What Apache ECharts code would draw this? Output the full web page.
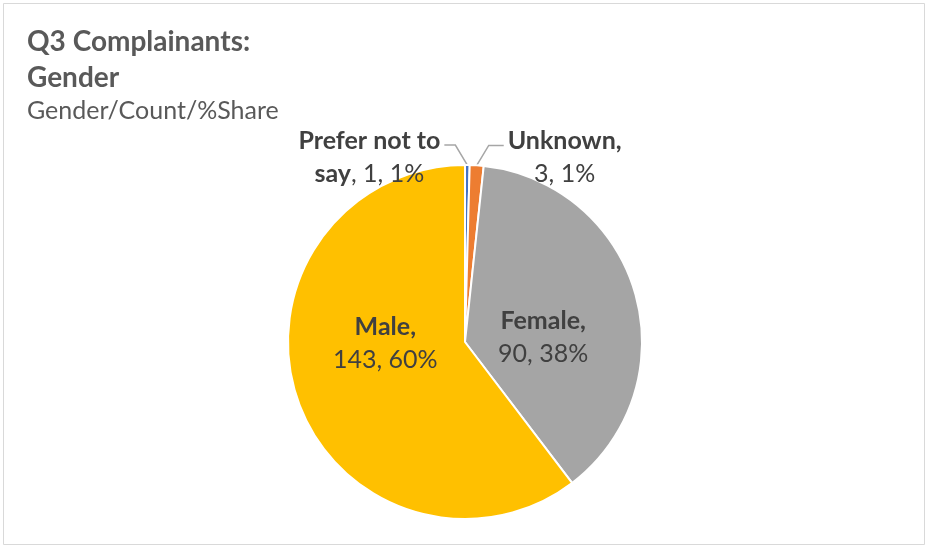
<!DOCTYPE html>
<html>
<head>
<meta charset="utf-8">
<script src="https://cdn.jsdelivr.net/npm/echarts@6/dist/echarts.min.js"></script>
<style>
html,body{margin:0;padding:0;background:#fff;}
#c{width:927px;height:547px;}
</style>
</head>
<body>
<div id="c"></div>
<script>
// Data
var categories = ['Prefer not to say', 'Unknown', 'Female', 'Male'];
var counts = [1, 3, 90, 143];
var pctLabels = ['1%', '1%', '38%', '60%'];
var colors = ['#4472C4', '#ED7D31', '#A5A5A5', '#FFC000'];
var titleText = 'Q3 Complainants:\nGender';
var subtitleText = 'Gender/Count/%Share';

var FONT = 'Lato, "Open Sans", sans-serif';
var LABEL_COLOR = '#404040';

function labelFormatter(p) {
  var i = p.dataIndex;
  var val = counts[i] + ', ' + pctLabels[i];
  if (i === 0) return '{b|Prefer not to}\n{b|say}{n|, ' + val + '}';
  if (i === 1) return '{b|Unknown,}\n{n|' + val + '}';
  return '{b|' + categories[i] + ',}\n{n|' + val + '}';
}

var seriesData = categories.map(function (c, i) {
  var item = { name: c, value: counts[i], itemStyle: { color: colors[i] } };
  if (i >= 2) {
    item.label = { position: 'inside' };
    item.labelLine = { show: false };
  } else {
    item.label = { position: 'outside' };
  }
  return item;
});

var rich = {
  b: { fontFamily: FONT, fontWeight: 'bold', fontSize: 25, color: LABEL_COLOR, lineHeight: 33 },
  n: { fontFamily: FONT, fontSize: 25, color: LABEL_COLOR, lineHeight: 33 }
};

var chart = echarts.init(document.getElementById('c'), null, { renderer: 'canvas' });
chart.setOption({
  animation: false,
  backgroundColor: '#fff',
  graphic: [{
    type: 'rect',
    shape: { x: 3.5, y: 3.5, width: 921, height: 541 },
    style: { fill: 'none', stroke: '#D9D9D9', lineWidth: 1 },
    silent: true
  }],
  title: {
    text: titleText,
    subtext: subtitleText,
    left: 22,
    top: 19,
    itemGap: 0,
    textStyle: { fontFamily: FONT, fontWeight: 'bold', fontSize: 28, color: '#595959', lineHeight: 36 },
    subtextStyle: { fontFamily: FONT, fontSize: 25, color: '#595959', lineHeight: 30 }
  },
  series: [{
    type: 'pie',
    center: [465, 342],
    radius: [0, 177],
    startAngle: 90,
    clockwise: true,
    avoidLabelOverlap: false,
    itemStyle: { borderColor: '#fff', borderWidth: 2 },
    label: {
      show: true,
      formatter: labelFormatter,
      rich: rich,
      align: 'center'
    },
    labelLine: {
      show: true,
      length: 18,
      length2: 12,
      lineStyle: { color: '#A6A6A6', width: 1.5 }
    },
    labelLayout: function (p) {
      var i = p.dataIndex;
      var pts = p.labelLinePoints;
      var lr = p.labelRect;
      if (i === 0 && pts) {
        var a = pts[0];
        var ex = a[0] - 12, ey = a[1] - 20, hx = ex - 11;
        return {
          x: hx - 4 - lr.width / 2, y: ey + 12,
          align: 'center', verticalAlign: 'middle',
          labelLinePoints: [a, [ex, ey], [hx, ey]]
        };
      }
      if (i === 1 && pts) {
        var b = pts[0];
        var fx = b[0] + 12, fy = b[1] - 20, gx = fx + 15;
        return {
          x: gx + 4 + lr.width / 2, y: fy + 12,
          align: 'center', verticalAlign: 'middle',
          labelLinePoints: [b, [fx, fy], [gx, fy]]
        };
      }
      if (i === 3) return { dx: 7, dy: -28 };
      if (i === 2) return { dx: -10, dy: 20 };
      return {};
    },
    data: seriesData
  }]
});
</script>
</body>
</html>
